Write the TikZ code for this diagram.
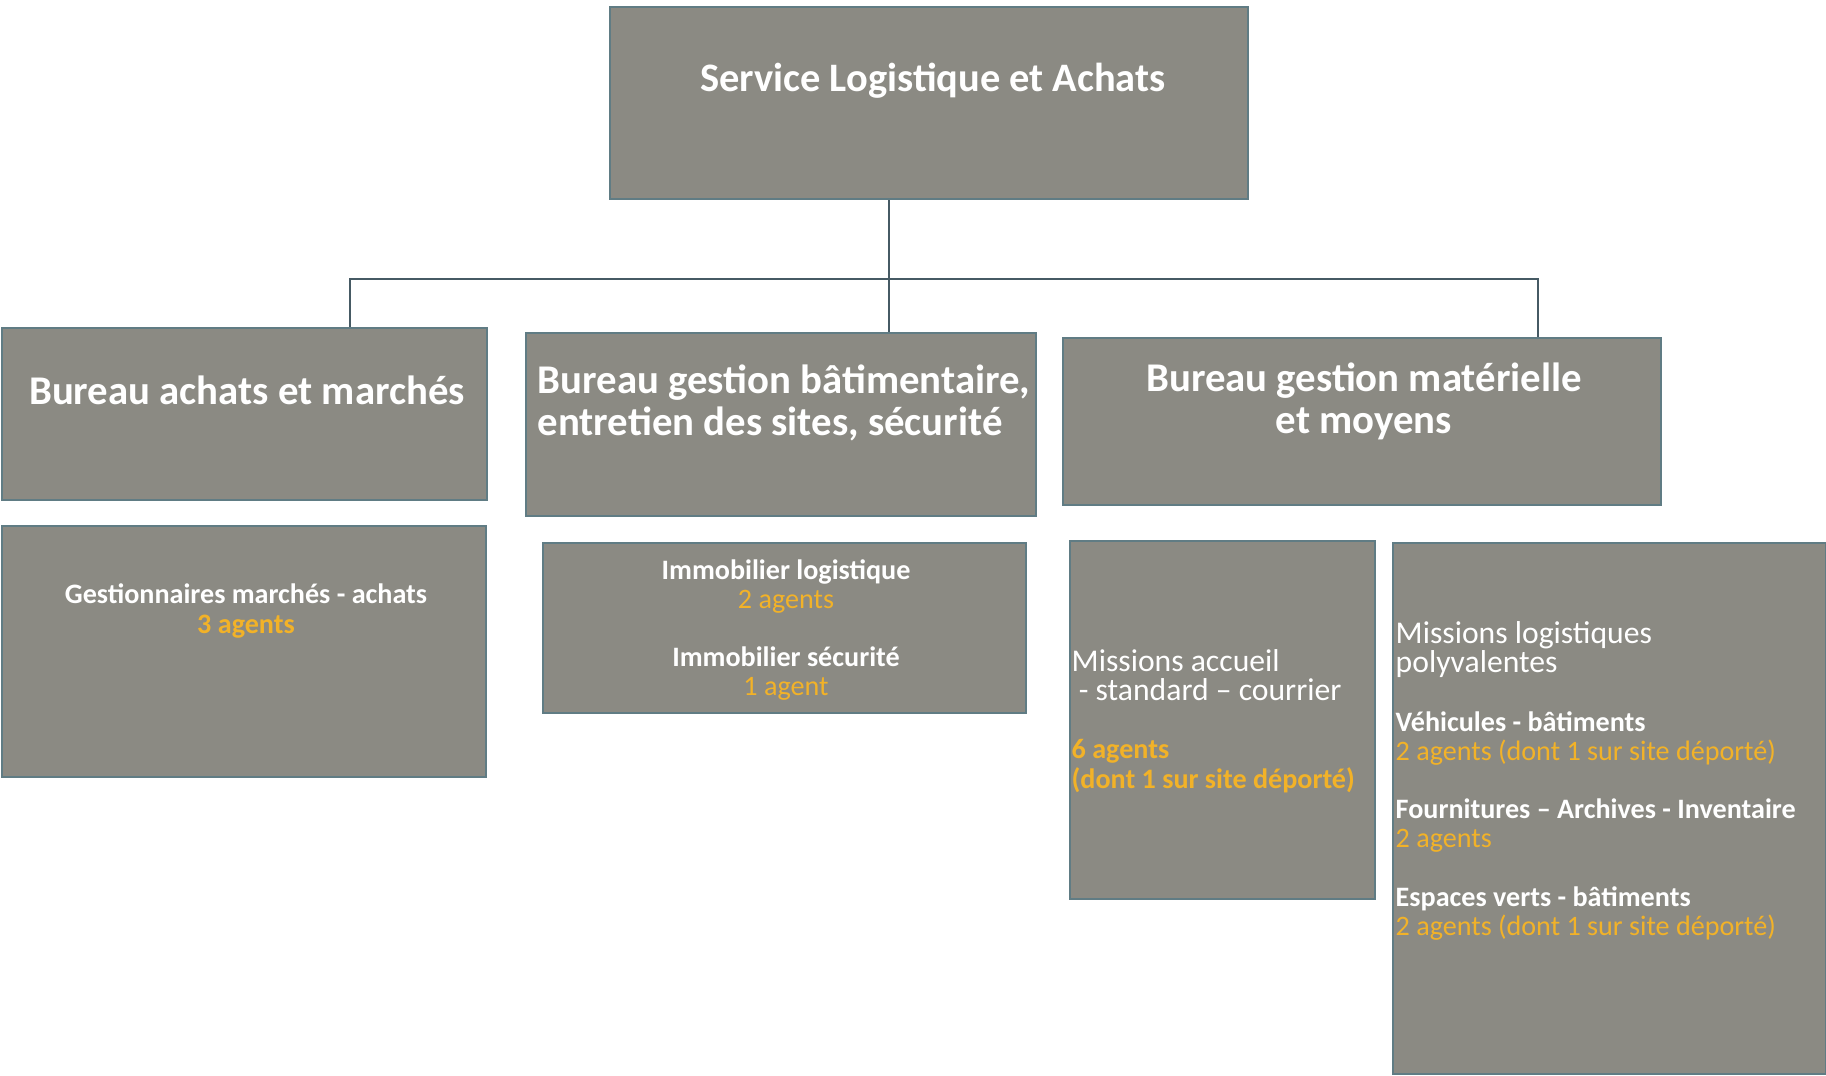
\documentclass[tikz,border=0pt]{standalone}
\usepackage{fontspec}
\setmainfont{Carlito}
\usetikzlibrary{positioning}

\definecolor{boxgray}{RGB}{139,138,131}
\definecolor{boxedge}{RGB}{96,124,132}
\definecolor{agentcol}{RGB}{242,178,40}
\definecolor{linkcol}{RGB}{70,90,100}

\tikzset{
  unit/.style={draw=boxedge, fill=boxgray, line width=0.6pt, inner sep=0pt},
  title/.style={text=white, inner sep=0pt, font=\bfseries\fontsize{11.5}{13}\selectfont},
  head/.style={text=white, inner sep=0pt, font=\bfseries\fontsize{11.6}{12}\selectfont},
  info/.style={text=white, inner sep=0pt, font=\fontsize{8}{8.3}\selectfont},
  link/.style={draw=linkcol, line width=0.6pt}
}
\newcommand{\agents}[1]{{\color{agentcol}#1}}
\newcommand{\mission}[1]{{\fontsize{9}{8.3}\selectfont#1}}

\begin{document}
\begin{tikzpicture}[x=0.01cm, y=-0.01cm]
  \fill[white] (0,0) rectangle (1826,1076);
  \useasboundingbox (0,0) rectangle (1826,1076);

  % boxes
  \node[unit, minimum width=6.38cm, minimum height=1.92cm] (service) at (929,103) {};
  \node[unit, minimum width=4.85cm, minimum height=1.72cm] (achats) at (244.5,414) {};
  \node[unit, minimum width=5.10cm, minimum height=1.83cm] (batiment) at (781,424.5) {};
  \node[unit, minimum width=5.98cm, minimum height=1.67cm] (materiel) at (1362,421.5) {};
  \node[unit, minimum width=4.84cm, minimum height=2.51cm] (marches) at (244,651.5) {};
  \node[unit, minimum width=4.83cm, minimum height=1.70cm] (immo) at (784.5,628) {};
  \node[unit, minimum width=3.05cm, minimum height=3.58cm] (accueil) at (1222.5,720) {};
  \node[unit, minimum width=4.33cm, minimum height=5.31cm] (polyv) at (1609.5,808.5) {};

  % connectors
  \coordinate (j1) at (350,279);
  \coordinate (j2) at (889,279);
  \coordinate (j3) at (1538,279);
  \draw[link] (service.south -| j2) -- (batiment.north -| j2);
  \draw[link] (achats.north -| j1) -- (j1) -- (j3) -- (materiel.north -| j3);

  % texts
  \node[title] (serviceT) at (933,81) {Service Logistique et Achats};
  \node[head] (achatsT) at (247,390) {Bureau achats et marchés};
  \node[head, align=left, anchor=west] (batimentT) at (537,403)
    {Bureau gestion bâtimentaire,\\entretien des sites, sécurité};
  \node[head, align=center] (materielT) at (1364,401)
    {Bureau gestion matérielle\\et moyens};

  \node[info, align=center, font=\bfseries\fontsize{8}{8.3}\selectfont] (marchesT) at (246,611)
    {Gestionnaires marchés - achats\\\agents{3 agents}};
  \node[info, align=center] (immoT) at (786,630)
    {\textbf{Immobilier logistique}\\\agents{2 agents}\\[8.3pt]
     \textbf{Immobilier sécurité}\\\agents{1 agent}};
  \node[info, align=left, anchor=west] (accueilT) at (1071,721)
    {\mission{Missions accueil}\\\mission{~- standard – courrier}\\[8.3pt]
     \agents{\textbf{6 agents}}\\\agents{\textbf{(dont 1 sur site déporté)}}};
  \node[info, align=left, anchor=west] (polyvT) at (1395,781)
    {\mission{Missions logistiques}\\\mission{polyvalentes}\\[8.3pt]
     \textbf{Véhicules - bâtiments}\\\agents{2 agents (dont 1 sur site déporté)}\\[8.3pt]
     \textbf{Fournitures – Archives - Inventaire}\\\agents{2 agents}\\[8.3pt]
     \textbf{Espaces verts - bâtiments}\\\agents{2 agents (dont 1 sur site déporté)}};
\end{tikzpicture}
\end{document}
